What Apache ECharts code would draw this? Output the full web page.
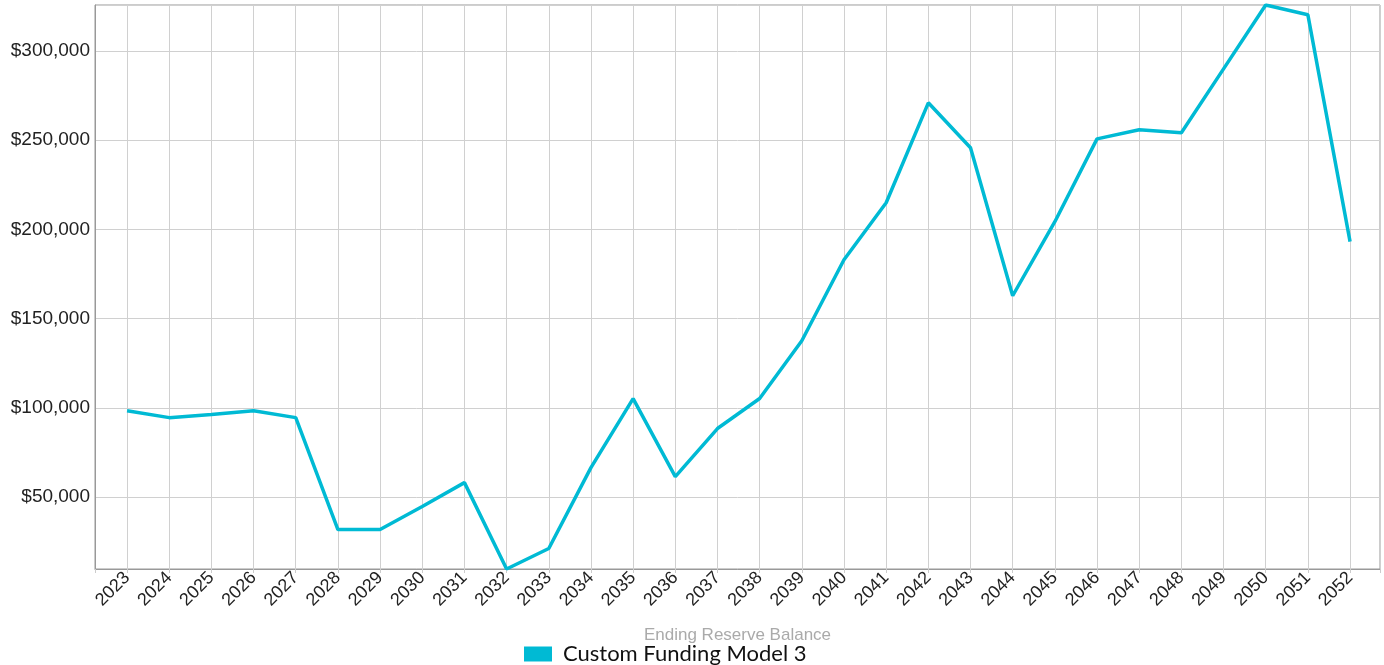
<!DOCTYPE html>
<html>
<head>
<meta charset="utf-8">
<script src="https://cdn.jsdelivr.net/npm/echarts@6/dist/echarts.min.js"></script>
<style>
html,body{margin:0;padding:0;background:#fff;}
#chart{width:1384px;height:665px;}
</style>
</head>
<body>
<div id="chart"></div>
<script>
const years = [2023,2024,2025,2026,2027,2028,2029,2030,2031,2032,2033,2034,2035,2036,2037,2038,2039,2040,2041,2042,2043,2044,2045,2046,2047,2048,2049,2050,2051,2052];
const balances = [98400,94500,96200,98400,94500,31800,31800,44700,58100,9700,21200,66500,105200,61500,88400,105200,137600,183000,214900,270900,245700,162800,204300,250700,255800,254100,289900,325700,320200,193100];
const seriesName = 'Custom Funding Model 3';
const axisTitle = 'Ending Reserve Balance';

const points = years.map((y, i) => [y, balances[i]]);
const chart = echarts.init(document.getElementById('chart'));
chart.setOption({
  animation: false,
  grid: { left: 95, right: 4, top: 5, bottom: 96, show: true, borderColor: '#999', borderWidth: 1 },
  legend: {
    left: 519, top: 638,
    itemWidth: 28, itemHeight: 15, itemGap: 10,
    icon: 'rect',
    textStyle: { fontFamily: 'Lato', fontSize: 22, color: '#111', padding: [0, 0, 0, 6] },
    data: [seriesName]
  },
  xAxis: {
    type: 'value',
    min: 2022.24, max: 2052.71,
    minInterval: 1, maxInterval: 1,
    name: axisTitle, nameLocation: 'middle', nameGap: 58,
    nameTextStyle: { fontFamily: 'Liberation Sans', fontSize: 17, color: '#aaa' },
    axisLine: { show: true, lineStyle: { color: '#999' } },
    axisTick: { show: true, length: 4, lineStyle: { color: '#ccc' } },
    splitLine: { show: true, lineStyle: { color: '#d0d0d0', width: 1 } },
    showMinLabel: false, showMaxLabel: false,
    axisLabel: {
      rotate: 45, margin: 6,
      fontFamily: 'Liberation Sans', fontSize: 18, color: '#222',
      formatter: v => Number.isInteger(v) ? String(v) : ''
    }
  },
  yAxis: {
    type: 'value',
    min: 'dataMin', max: 'dataMax',
    minInterval: 50000, maxInterval: 50000,
    showMinLabel: false, showMaxLabel: false,
    axisLine: { show: true, lineStyle: { color: '#999' } },
    axisTick: { show: false },
    splitLine: { show: true, lineStyle: { color: '#d0d0d0', width: 1 } },
    axisLabel: {
      margin: 5,
      fontFamily: 'Liberation Sans', fontSize: 19, color: '#222',
      formatter: v => (v % 50000 === 0) ? '$' + v.toLocaleString('en-US') : ''
    }
  },
  series: [{
    name: seriesName,
    type: 'line',
    data: points,
    symbol: 'none',
    itemStyle: { color: '#00BAD4' },
    lineStyle: { color: '#00BAD4', width: 3.5 }
  }]
});
</script>
</body>
</html>
